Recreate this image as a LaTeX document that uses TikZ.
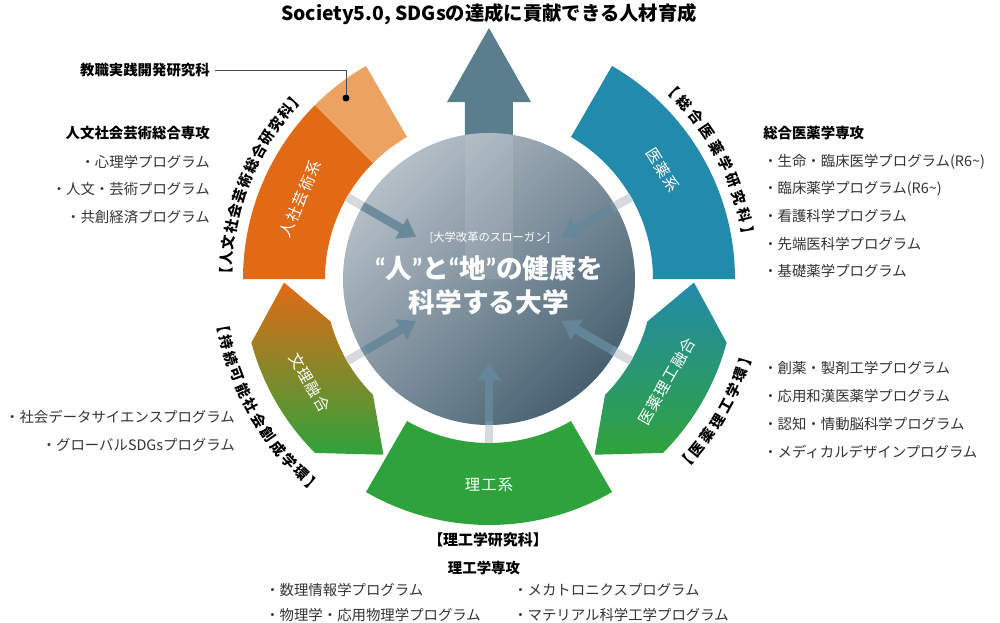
\documentclass[tikz,border=0pt]{standalone}
\usepackage{fontspec}
\setmainfont{Noto Sans CJK JP}
\newfontfamily\quotefont{Lato}
\usetikzlibrary{arrows.meta}

\definecolor{jinsha}{HTML}{E26A15}
\definecolor{kyoshoku}{HTML}{ECA362}
\definecolor{iyaku}{HTML}{228AAB}
\definecolor{riko}{HTML}{2FA33B}
\definecolor{slate}{HTML}{5A7E8D}
\definecolor{circlight}{HTML}{B5BFC8}
\definecolor{circmid}{HTML}{567181}
\definecolor{circdark}{HTML}{476171}
\definecolor{inarrow}{HTML}{66889A}
\definecolor{gapgray}{HTML}{D6DADD}
\definecolor{listgray}{HTML}{333333}

\tikzset{
  seglabel/.style={text=white, font=\fontsize{11.5}{13}\selectfont\addfontfeature{LetterSpace=8}},
  prog/.style={text=listgray, font=\fontsize{10.8}{13}\selectfont, inner sep=0pt},
  majorhead/.style={font=\bfseries\fontsize{10.8}{13}\selectfont, inner sep=0pt},
  arcchar/.style={font=\bfseries\fontsize{10.8}{12}\selectfont, inner sep=0pt}
}

\begin{document}
\begin{tikzpicture}[x=0.75pt,y=0.75pt]
        \useasboundingbox (-489,-343) rectangle (511,279);
        % ring segments
        \fill[jinsha] (135:164) arc (135:180:164) -- (180:246) arc (180:135:246) -- cycle;
        \fill[kyoshoku] (120:164) arc (120:135:164) -- (135:246) arc (135:120:246) -- cycle;
        \fill[iyaku] (0:164) arc (0:60:164) -- (60:246) arc (60:0:246) -- cycle;
        \fill[riko] (240:164) arc (240:300:164) -- (300:246) arc (300:240:246) -- cycle;
        \shade[top color=jinsha, bottom color=riko]
        (181:205) -- (195:246) arc (195:225:246) -- (239:205) -- (225:164) arc (225:195:164) -- cycle;
        \shade[top color=iyaku, bottom color=riko]
        (-1:205) -- (-15:246) arc (-15:-45:246) -- (-59:205) -- (-45:164) arc (-45:-15:164) -- cycle;
        % big arrow up
        \fill[slate] (-24,110) -- (-24,177) -- (-42,177) -- (0,251) -- (42,177) -- (24,177) -- (24,110) -- cycle;
        % centre circle
        \shade[top color=circlight, middle color=circmid, bottom color=circdark, shading angle=45]
        (0,0) circle (146);
        \begin{scope}
          \clip (0,0) circle (146);
          \fill[white, opacity=0.1] (-24,0) rectangle (24,150);
        \end{scope}
        \foreach \a in {30,150,210,270,330}{
          \draw[line width=6.5pt, gapgray] (\a:164) -- (\a:142);
          \draw[line width=6.5pt, inarrow, opacity=0.9, -{Triangle[width=17pt,length=13pt]}] (\a:146) -- (\a:84);
        }
        \node[text=white, font=\fontsize{8.5}{10}\selectfont] (slogantag) at (1,41) {[大学改革のスローガン]};
        \node[text=white, font=\bfseries\fontsize{20}{25.5}\selectfont, align=center] (slogan) at (0,-6)
        {{\quotefont“}人{\quotefont”}と{\quotefont“}地{\quotefont”}の健康を\\科学する大学};
        % labels in the ring
        \node[seglabel, rotate=67] (jinshalbl) at (157:205) {人社芸術系};
        \node[seglabel, rotate=-58] (iyakulbl) at (32:205) {医薬系};
        \node[seglabel, rotate=-60] (bunrilbl) at (210:207) {文理融合};
        \node[seglabel, rotate=60] (iyakurikolbl) at (-30:205) {医薬理工融合};
        \node[seglabel] (rikolbl) at (270:206) {理工系};
        % names along the ring, one character at a time
        \foreach \ch [count=\i, evaluate=\i as \ang using 179-3.5*(\i-1)]
            in {【,人,文,社,会,芸,術,総,合,研,究,科,】}
          \node[arcchar, rotate=\ang-90] (jinbunken\i) at (\ang:263) {\ch};
        \foreach \ch [count=\i, evaluate=\i as \ang using 46-4*(\i-1)]
            in {【,総,合,医,薬,学,研,究,科,】}
          \node[arcchar, rotate=\ang-90] (iyakuken\i) at (\ang:263) {\ch};
        \foreach \ch [count=\i, evaluate=\i as \ang using 190+3.6*(\i-1)]
            in {【,持,続,可,能,社,会,創,成,学,環,】}
          \node[arcchar, rotate=\ang+90] (jizoku\i) at (\ang:270) {\ch};
        \foreach \ch [count=\i, evaluate=\i as \ang using -43+3.7*(\i-1)]
            in {【,医,薬,理,工,学,環,】}
          \node[arcchar, rotate=\ang+90] (iyakurikoken\i) at (\ang:269) {\ch};
        \node[font=\bfseries\fontsize{11.2}{13}\selectfont] (rikoken) at (-1,-261) {【理工学研究科】};
        % title
        \node[font=\bfseries\fontsize{14.5}{17}\selectfont] (title) at (0,265) {Society5.0, SDGsの達成に貢献できる人材育成};
        % programs, left
        \node[majorhead, anchor=east] (kyoshokuhead) at (-279,209) {教職実践開発研究科};
        \coordinate (kyoshokudot) at (-143,181);
        \draw[black!70, line width=0.6pt, shorten <=4pt] (kyoshokuhead.east) -| (kyoshokudot);
        \fill (kyoshokudot) circle (3.5);
        \node[majorhead, anchor=east] (jinbunhead) at (-279,146) {人文社会芸術総合専攻};
        \foreach \lbl [count=\i] in {・心理学プログラム, ・人文・芸術プログラム, ・共創経済プログラム}
          \node[prog, anchor=east] (jinbun\i) at (-279,144-27.2*\i) {\lbl};
        \foreach \lbl [count=\i] in {・社会データサイエンスプログラム, ・グローバルSDGsプログラム}
          \node[prog, anchor=east] (jizokuprog\i) at (-254,-110-28*\i) {\lbl};
        % programs, right
        \node[majorhead, anchor=west] (iyakuhead) at (274,146) {総合医薬学専攻};
        \foreach \lbl [count=\i] in {・生命・臨床医学プログラム(R6\textasciitilde), ・臨床薬学プログラム(R6\textasciitilde),
            ・看護科学プログラム, ・先端医科学プログラム, ・基礎薬学プログラム}
          \node[prog, anchor=west] (iyaku\i) at (274,144.5-27.3*\i) {\lbl};
        \foreach \lbl [count=\i] in {・創薬・製剤工学プログラム, ・応用和漢医薬学プログラム,
            ・認知・情動脳科学プログラム, ・メディカルデザインプログラム}
          \node[prog, anchor=west] (iyakuriko\i) at (274,-61-28*\i) {\lbl};
        % programs, bottom
        \node[majorhead] (rikohead) at (-5,-289) {理工学専攻};
        \node[prog, anchor=west] (riko1) at (-224,-311) {・数理情報学プログラム};
        \node[prog, anchor=west] (riko2) at (-224,-336) {・物理学・応用物理学プログラム};
        \node[prog, anchor=west] (riko3) at (24,-311) {・メカトロニクスプログラム};
        \node[prog, anchor=west] (riko4) at (24,-336) {・マテリアル科学工学プログラム};
      \end{tikzpicture}
\end{document}
